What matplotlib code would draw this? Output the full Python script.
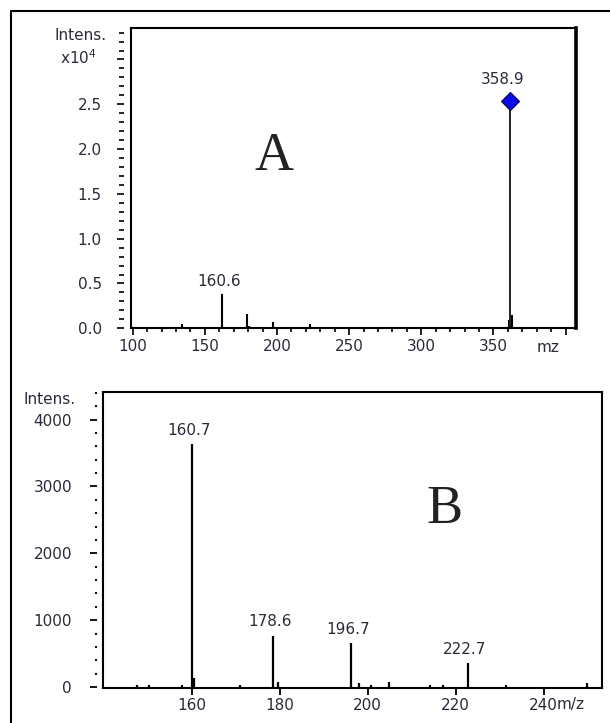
import matplotlib
matplotlib.use('Agg')
import matplotlib.pyplot as plt
from matplotlib.lines import Line2D
from matplotlib.ticker import FixedLocator, MultipleLocator

plt.rcParams['font.family'] = ['DejaVu Sans']

W, H, DPI = 610, 723, 100
TXT = '#2a2a3a'

# ---------------- Panel A data ----------------
a_mz = [134.0, 162.0, 179.0, 180.6, 197.0, 222.9, 360.8, 362.6]
a_int = [450, 3800, 1560, 300, 740, 450, 900, 1500]
a_main_mz = 361.8
a_main_int = 25400
a_main_label = '358.9'
a_lab_mz = [162.0]
a_lab_int = [3800]
a_lab_txt = ['160.6']
a_yticks = [0, 5000, 10000, 15000, 20000, 25000, 30000]
a_yticklabels = ['0.0', '0.5', '1.0', '1.5', '2.0', '2.5', '']
a_xticks = [100, 150, 200, 250, 300, 350, 400]
a_xticklabels = ['100', '150', '200', '250', '300', '350', '']

# ---------------- Panel B data ----------------
b_mz = [147.5, 150.3, 157.7, 160.0, 160.6, 171.0, 178.5, 179.5, 196.2, 198.0,
        200.7, 204.9, 214.2, 217.0, 222.7, 231.4, 249.9]
b_int = [30, 30, 35, 3630, 135, 35, 770, 70, 658, 60,
         25, 70, 30, 35, 360, 30, 60]
b_lab_mz = [160.0, 178.5, 196.2, 222.7]
b_lab_int = [3630, 770, 658, 360]
b_lab_txt = ['160.7', '178.6', '196.7', '222.7']
b_yticks = [0, 1000, 2000, 3000, 4000]
b_yticklabels = ['0', '1000', '2000', '3000', '4000']
b_xticks = [160, 180, 200, 220, 240]
b_xticklabels = ['160', '180', '200', '220', '240']


def fx(px):
    return px / W


def fy(py):
    return 1 - py / H


fig = plt.figure(figsize=(W / DPI, H / DPI), dpi=DPI)
fig.patch.set_facecolor('white')

# outer frame (left and top edges visible)
fig.add_artist(Line2D([fx(11), fx(11), 1.0], [0.0, fy(11), fy(11)],
                      transform=fig.transFigure, color='k', lw=1.5))


def style_axes(ax, right_lw, y_offset_pt):
    for s in ['top', 'bottom', 'right']:
        ax.spines[s].set_linewidth(1.5)
        ax.spines[s].set_color('k')
    ax.spines['right'].set_linewidth(right_lw)
    ax.spines['left'].set_position(('outward', y_offset_pt))
    ax.spines['left'].set_visible(False)
    ax.plot([0, 0], [0, 1], transform=ax.transAxes, color='k', lw=1.5,
            clip_on=False, solid_capstyle='projecting')
    ax.set_facecolor('white')


# ---------------- Panel A ----------------
axA = fig.add_axes([fx(130.7), fy(328.3), (575.7 - 130.7) / W, (328.3 - 28.3) / H])
style_axes(axA, 2.6, 4.6)
axA.vlines(a_mz, 0, a_int, colors='k', lw=1.5)
axA.vlines([a_main_mz], 0, [a_main_int], colors='#222222', lw=1.4)
axA.plot([a_main_mz], [a_main_int], marker='D', markersize=9.5, color='#0a0ae6',
         markeredgecolor='#000050', markeredgewidth=0.8, clip_on=False)
axA.set_xlim(98.6, 407.0)
axA.set_ylim(0, 33480)
axA.yaxis.set_major_locator(FixedLocator(a_yticks))
axA.set_yticklabels(a_yticklabels)
axA.yaxis.set_minor_locator(MultipleLocator(1000))
axA.xaxis.set_major_locator(FixedLocator(a_xticks))
axA.set_xticklabels(a_xticklabels)
axA.xaxis.set_minor_locator(MultipleLocator(10))
axA.tick_params(axis='y', which='major', direction='out', length=4.7, width=1.2,
                pad=11.5, labelsize=11, labelcolor=TXT)
axA.tick_params(axis='y', which='minor', direction='out', length=3.4, width=1.2)
axA.tick_params(axis='x', which='major', direction='out', length=5.0, width=1.2,
                pad=2.4, labelsize=11, labelcolor=TXT)
axA.tick_params(axis='x', which='minor', direction='out', length=3.0, width=1.2)
for m, h, t in zip(a_lab_mz, a_lab_int, a_lab_txt):
    axA.annotate(t, (m, h), xytext=(-2, 9), textcoords='offset points',
                 ha='center', va='center', fontsize=11, color=TXT)
axA.annotate(a_main_label, (a_main_mz, a_main_int), xytext=(-5.5, 15.6),
             textcoords='offset points', ha='center', va='center',
             fontsize=11, color=TXT)
fig.text(fx(274), fy(157), 'A', fontsize=39, family='Liberation Serif',
         ha='center', va='center', color='#222222')
fig.text(fx(106.7), fy(35), 'Intens.', fontsize=11, ha='right', va='center', color=TXT)
fig.text(fx(97), fy(58), 'x10$^4$', fontsize=11, ha='right', va='center', color=TXT)
fig.text(fx(548), fy(347), 'mz', fontsize=11, ha='center', va='center', color=TXT)

# ---------------- Panel B ----------------
axB = fig.add_axes([fx(103), fy(688.3), (601.7 - 103) / W, (688.3 - 391.7) / H])
style_axes(axB, 1.5, 4.5)
axB.vlines(b_mz, 0, b_int, colors='k', lw=1.6)
axB.set_xlim(139.8, 253.2)
axB.set_ylim(-19, 4417)
axB.yaxis.set_major_locator(FixedLocator(b_yticks))
axB.set_yticklabels(b_yticklabels)
axB.yaxis.set_minor_locator(MultipleLocator(200))
axB.xaxis.set_major_locator(FixedLocator(b_xticks))
axB.set_xticklabels(b_xticklabels)
axB.tick_params(axis='y', which='major', direction='out', length=4.8, width=1.3,
                pad=13, labelsize=11, labelcolor=TXT)
axB.tick_params(axis='y', which='minor', direction='out', length=1.4, width=1.4)
axB.tick_params(axis='x', which='major', direction='out', length=4.8, width=1.3,
                pad=2.4, labelsize=11, labelcolor=TXT)
for m, h, t in zip(b_lab_mz, b_lab_int, b_lab_txt):
    axB.annotate(t, (m, h), xytext=(-2, 9.8), textcoords='offset points',
                 ha='center', va='center', fontsize=11, color=TXT)
fig.text(fx(445), fy(510), 'B', fontsize=39, family='Liberation Serif',
         ha='center', va='center', color='#222222')
fig.text(fx(76), fy(399), 'Intens.', fontsize=11, ha='right', va='center', color=TXT)
fig.text(fx(571), fy(705), 'm/z', fontsize=11, ha='center', va='center', color=TXT)

fig.savefig('out.png', dpi=DPI)
